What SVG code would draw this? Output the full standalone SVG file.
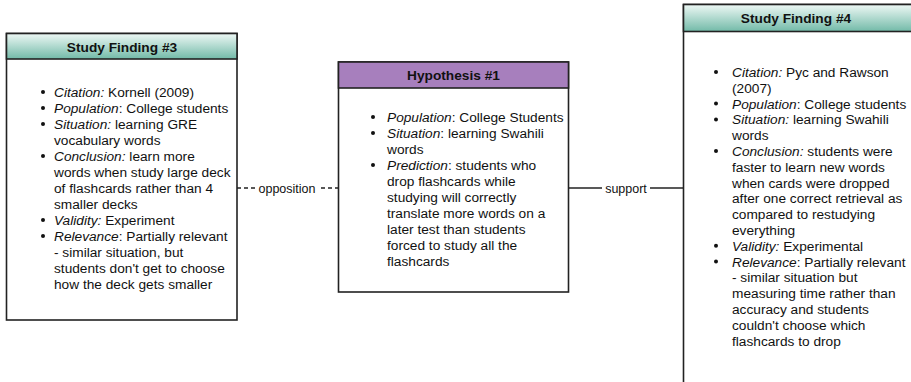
<svg xmlns="http://www.w3.org/2000/svg" width="911" height="382" viewBox="0 0 911 382">
<defs>
<linearGradient id="teal" x1="0" y1="0" x2="0" y2="1">
<stop offset="0" stop-color="#eef8f5"/>
<stop offset="1" stop-color="#72baa8"/>
</linearGradient>
<style>
.box{fill:#fff;stroke:#222;stroke-width:1.6}
.hdr{stroke:#222;stroke-width:1.6}
.ht{font-family:"Liberation Sans",Arial,sans-serif;font-size:13.7px;font-weight:bold;fill:#111;text-anchor:middle}
.t{font-family:"Liberation Sans",Arial,sans-serif;font-size:13.7px;fill:#111}
.i{font-style:italic}
.b{fill:#111}
.lbl{font-family:"Liberation Sans",Arial,sans-serif;font-size:12.5px;fill:#111;text-anchor:middle}
.conn{stroke:#222;stroke-width:1.3;fill:none}
</style>
</defs>
<rect width="911" height="382" fill="#fff"/>
<g id="connectors">
<line class="conn" x1="237" y1="188" x2="338" y2="188" stroke-dasharray="4,3"/>
<rect x="255" y="180" width="64" height="16" fill="#fff"/>
<text class="lbl" x="287" y="192.5">opposition</text>
<line class="conn" x1="569" y1="188" x2="683" y2="188"/>
<rect x="602" y="180" width="48" height="16" fill="#fff"/>
<text class="lbl" x="626" y="192.5">support</text>
</g>
<g id="finding3">
<rect class="box" x="6.5" y="33.5" width="230.5" height="286.5"/>
<rect class="hdr" x="6.5" y="33.5" width="230.5" height="25.5" fill="url(#teal)"/>
<text class="ht" x="122" y="51.5">Study Finding #3</text>
<g class="b">
<circle cx="43" cy="92" r="2"/><circle cx="43" cy="108" r="2"/><circle cx="43" cy="124" r="2"/><circle cx="43" cy="156" r="2"/><circle cx="43" cy="220" r="2"/><circle cx="43" cy="236" r="2"/>
</g>
<text class="t"><tspan x="54" y="97"><tspan class="i">Citation:</tspan> Kornell (2009)</tspan><tspan x="54" y="113"><tspan class="i">Population</tspan>: College students</tspan><tspan x="54" y="129"><tspan class="i">Situation:</tspan> learning GRE</tspan><tspan x="54" y="145">vocabulary words</tspan><tspan x="54" y="161"><tspan class="i">Conclusion:</tspan> learn more</tspan><tspan x="54" y="177">words when study large deck</tspan><tspan x="54" y="193">of flashcards rather than 4</tspan><tspan x="54" y="209">smaller decks</tspan><tspan x="54" y="225"><tspan class="i">Validity:</tspan> Experiment</tspan><tspan x="54" y="241"><tspan class="i">Relevance</tspan>: Partially relevant</tspan><tspan x="54" y="257">- similar situation, but</tspan><tspan x="54" y="273">students don't get to choose</tspan><tspan x="54" y="289">how the deck gets smaller</tspan></text>
</g>
<g id="hypothesis1">
<rect class="box" x="338.5" y="62" width="230" height="230"/>
<rect class="hdr" x="338.5" y="62" width="230" height="26" fill="#a77fbd"/>
<text class="ht" x="453.5" y="80">Hypothesis #1</text>
<g class="b">
<circle cx="373" cy="117" r="2"/><circle cx="373" cy="133" r="2"/><circle cx="373" cy="165" r="2"/>
</g>
<text class="t"><tspan x="387" y="122"><tspan class="i">Population</tspan>: College Students</tspan><tspan x="387" y="138"><tspan class="i">Situation</tspan>: learning Swahili</tspan><tspan x="387" y="154">words</tspan><tspan x="387" y="170"><tspan class="i">Prediction</tspan>: students who</tspan><tspan x="387" y="186">drop flashcards while</tspan><tspan x="387" y="202">studying will correctly</tspan><tspan x="387" y="218">translate more words on a</tspan><tspan x="387" y="234">later test than students</tspan><tspan x="387" y="250">forced to study all the</tspan><tspan x="387" y="266">flashcards</tspan></text>
</g>
<g id="finding4">
<rect class="box" x="683.5" y="4.5" width="232" height="390"/>
<rect class="hdr" x="683.5" y="4.5" width="232" height="27" fill="url(#teal)"/>
<text class="ht" x="796" y="23">Study Finding #4</text>
<g class="b">
<circle cx="716" cy="72" r="2"/><circle cx="716" cy="103.6" r="2"/><circle cx="716" cy="119.4" r="2"/><circle cx="716" cy="151" r="2"/><circle cx="716" cy="245.8" r="2"/><circle cx="716" cy="261.6" r="2"/>
</g>
<text class="t"><tspan x="732" y="77"><tspan class="i">Citation:</tspan> Pyc and Rawson</tspan><tspan x="732" y="92.8">(2007)</tspan><tspan x="732" y="108.6"><tspan class="i">Population</tspan>: College students</tspan><tspan x="732" y="124.4"><tspan class="i">Situation:</tspan> learning Swahili</tspan><tspan x="732" y="140.2">words</tspan><tspan x="732" y="156"><tspan class="i">Conclusion:</tspan> students were</tspan><tspan x="732" y="171.8">faster to learn new words</tspan><tspan x="732" y="187.6">when cards were dropped</tspan><tspan x="732" y="203.4">after one correct retrieval as</tspan><tspan x="732" y="219.2">compared to restudying</tspan><tspan x="732" y="235">everything</tspan><tspan x="732" y="250.8"><tspan class="i">Validity:</tspan> Experimental</tspan><tspan x="732" y="266.6"><tspan class="i">Relevance</tspan>: Partially relevant</tspan><tspan x="732" y="282.4">- similar situation but</tspan><tspan x="732" y="298.2">measuring time rather than</tspan><tspan x="732" y="314">accuracy and students</tspan><tspan x="732" y="329.8">couldn't choose which</tspan><tspan x="732" y="345.6">flashcards to drop</tspan></text>
</g>
</svg>
